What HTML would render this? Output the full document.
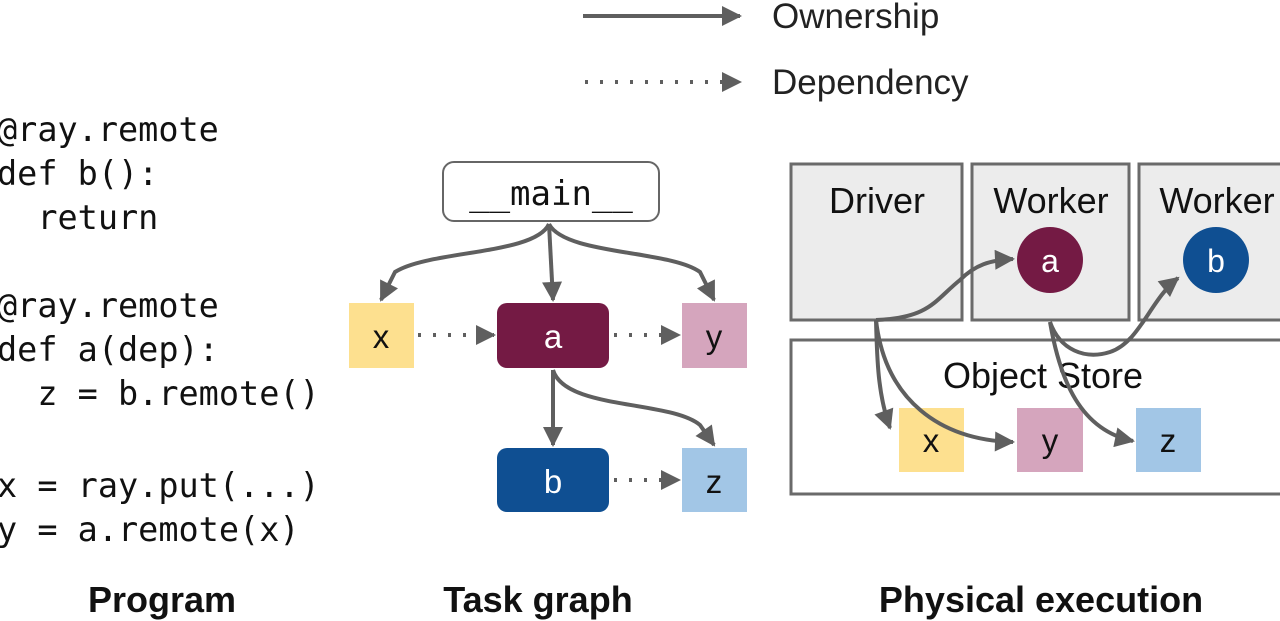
<!DOCTYPE html>
<html><head><meta charset="utf-8"><style>
html,body{margin:0;padding:0;background:#fff;width:1280px;height:621px;overflow:hidden}
svg text{font-family:"Liberation Sans",sans-serif}
svg text.mono{font-family:"DejaVu Sans Mono","Liberation Mono",monospace;white-space:pre}
</style></head><body>
<svg width="1280" height="621" viewBox="0 0 1280 621" xml:space="preserve">
<defs>
<marker id="ah" viewBox="0 0 10 10" refX="9" refY="5" markerWidth="5.5" markerHeight="5" orient="auto" markerUnits="strokeWidth"><path d="M0,0 L10,5 L0,10 z" fill="#5f5f5f"/></marker>
</defs>
<g fill="none" stroke="#5f5f5f" stroke-width="4">
<line x1="583" y1="16" x2="740" y2="16" marker-end="url(#ah)"/>
<line x1="585" y1="82" x2="740" y2="82" stroke-dasharray="3,12" marker-end="url(#ah)"/>
</g>
<text x="772" y="28" font-size="35" fill="#222">Ownership</text>
<text x="772" y="94" font-size="35" fill="#222">Dependency</text>

<g font-size="33.5" fill="#111">
<text x="-3" y="141" class="mono">@ray.remote</text>
<text x="-3" y="185" class="mono">def b():</text>
<text x="-3" y="229" class="mono">  return</text>
<text x="-3" y="317" class="mono">@ray.remote</text>
<text x="-3" y="361" class="mono">def a(dep):</text>
<text x="-3" y="405" class="mono">  z = b.remote()</text>
<text x="-3" y="497" class="mono">x = ray.put(...)</text>
<text x="-3" y="541" class="mono">y = a.remote(x)</text>
</g>

<rect x="443" y="162" width="216" height="59" rx="11" fill="#fff" stroke="#666" stroke-width="2"/>
<text x="551" y="205" font-size="34" text-anchor="middle" class="mono" fill="#111">__main__</text>
<rect x="349" y="303" width="65" height="65" fill="#fde08f"/>
<rect x="497" y="303" width="112" height="65" rx="10" fill="#741a44"/>
<rect x="682" y="303" width="65" height="65" fill="#d5a5bd"/>
<rect x="497" y="448" width="112" height="64" rx="10" fill="#0f4f92"/>
<rect x="682" y="448" width="65" height="64" fill="#a2c6e6"/>
<g font-size="33" text-anchor="middle">
<text x="381" y="348" fill="#111">x</text>
<text x="553" y="348" fill="#fff">a</text>
<text x="714" y="348" fill="#111">y</text>
<text x="553" y="493" fill="#fff">b</text>
<text x="714" y="493" fill="#111">z</text>
</g>
<g fill="none" stroke="#5f5f5f" stroke-width="4">
<path d="M549,224 C535,255 430,250 395,272 L381,300" marker-end="url(#ah)"/>
<path d="M549,224 L553,300" marker-end="url(#ah)"/>
<path d="M549,224 C565,255 670,250 700,272 L714,300" marker-end="url(#ah)"/>
<path d="M553,370 L553,445" marker-end="url(#ah)"/>
<path d="M553,370 C565,410 670,400 700,425 L714,445" marker-end="url(#ah)"/>
<line x1="418" y1="335" x2="494" y2="335" stroke-dasharray="3,12" marker-end="url(#ah)"/>
<line x1="614" y1="335" x2="679" y2="335" stroke-dasharray="3,12" marker-end="url(#ah)"/>
<line x1="614" y1="480" x2="679" y2="480" stroke-dasharray="3,12" marker-end="url(#ah)"/>
</g>

<g stroke="#6a6a6a" stroke-width="3" fill="#ececec">
<rect x="791" y="164" width="171" height="156"/>
<rect x="972" y="164" width="157" height="156"/>
<rect x="1139" y="164" width="150" height="156"/>
<rect x="791" y="340" width="498" height="154" fill="#fff"/>
</g>
<g font-size="36" text-anchor="middle" fill="#111">
<text x="877" y="213">Driver</text>
<text x="1051" y="213">Worker</text>
<text x="1217" y="213">Worker</text>
<text x="1043" y="388">Object Store</text>
</g>
<circle cx="1050" cy="260" r="33" fill="#741a44"/>
<circle cx="1216" cy="260" r="33" fill="#0f4f92"/>
<text x="1050" y="272" font-size="32" text-anchor="middle" fill="#fff">a</text>
<text x="1216" y="272" font-size="32" text-anchor="middle" fill="#fff">b</text>
<rect x="899" y="408" width="65" height="64" fill="#fde08f"/>
<rect x="1017" y="408" width="66" height="64" fill="#d5a5bd"/>
<rect x="1136" y="408" width="65" height="64" fill="#a2c6e6"/>
<g font-size="33" text-anchor="middle" fill="#111">
<text x="931" y="452">x</text>
<text x="1050" y="452">y</text>
<text x="1168" y="452">z</text>
</g>
<g fill="none" stroke="#5f5f5f" stroke-width="4">
<path d="M876,320 C930,318 935,300 960,280 C975,265 990,260 1013,259" marker-end="url(#ah)"/>
<path d="M876,320 C877,360 878,395 890,428" marker-end="url(#ah)"/>
<path d="M876,320 C885,400 940,440 1013,442" marker-end="url(#ah)"/>
<path d="M1050,322 C1060,350 1085,360 1110,352 C1140,342 1150,300 1178,278" marker-end="url(#ah)"/>
<path d="M1050,322 C1060,380 1080,430 1133,441" marker-end="url(#ah)"/>
</g>

<g font-size="36" font-weight="bold" text-anchor="middle" fill="#111">
<text x="162" y="612">Program</text>
<text x="538" y="612">Task graph</text>
<text x="1041" y="612">Physical execution</text>
</g>
</svg>
</body></html>
